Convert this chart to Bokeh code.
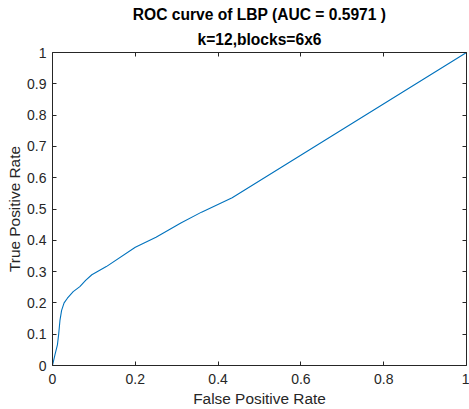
from bokeh.plotting import figure
from bokeh.models import LinearAxis, FixedTicker, Title, Range1d
from bokeh.embed import file_html
from bokeh.resources import INLINE

fpr = [0, 0.006, 0.012, 0.015, 0.018, 0.022, 0.028, 0.036, 0.05, 0.066, 0.08,
       0.095, 0.13, 0.2, 0.25, 0.31, 0.36, 0.434, 1.0]
tpr = [0, 0.035, 0.067, 0.101, 0.144, 0.176, 0.2, 0.215, 0.236, 0.252, 0.272,
       0.29, 0.316, 0.378, 0.41, 0.455, 0.49, 0.536, 1.0]
x_ticks = [0, 0.2, 0.4, 0.6, 0.8, 1.0]
x_labels = ["0", "0.2", "0.4", "0.6", "0.8", "1"]
y_ticks = [0, 0.1, 0.2, 0.3, 0.4, 0.5, 0.6, 0.7, 0.8, 0.9, 1.0]
y_labels = ["0", "0.1", "0.2", "0.3", "0.4", "0.5", "0.6", "0.7", "0.8", "0.9", "1"]
title1 = "ROC curve of LBP (AUC = 0.5971 )"
title2 = "k=12,blocks=6x6"
x_title = "False Positive Rate"
y_title = "True Positive Rate"

FONT = "Liberation Sans"
AX = "#262626"

p = figure(width=469, height=409, output_backend="svg", toolbar_location=None,
           x_range=Range1d(0, 1), y_range=Range1d(0, 1),
           x_axis_label=x_title, y_axis_label=y_title,
           min_border_left=52, min_border_right=3, min_border_bottom=44, min_border_top=52)
p.grid.visible = False
p.outline_line_color = None
p.background_fill_color = "white"
p.border_fill_color = "white"

def style(ax, ticks, labels):
    ax.ticker = FixedTicker(ticks=ticks)
    ax.major_label_overrides = {t: l for t, l in zip(ticks, labels)}
    ax.axis_line_color = AX
    ax.axis_line_width = 1
    ax.major_tick_line_color = AX
    ax.major_tick_in = 4
    ax.major_tick_out = 0
    ax.minor_tick_line_color = None
    ax.major_label_text_font = FONT
    ax.major_label_text_font_size = "14px"
    ax.major_label_text_color = AX
    ax.axis_label_text_font = FONT
    ax.axis_label_text_font_size = "15.4px"
    ax.axis_label_text_font_style = "normal"
    ax.axis_label_text_color = AX

style(p.xaxis[0], x_ticks, x_labels)
style(p.yaxis[0], y_ticks, y_labels)
p.xaxis[0].major_label_standoff = 8
p.xaxis[0].axis_label_standoff = 3
p.yaxis[0].major_label_standoff = 6
p.yaxis[0].axis_label_standoff = 1

def box_axis(ticks):
    ax = LinearAxis(ticker=FixedTicker(ticks=[], minor_ticks=ticks))
    ax.axis_line_color = AX
    ax.axis_line_width = 1
    ax.major_tick_line_color = None
    ax.minor_tick_line_color = AX
    ax.minor_tick_in = 4
    ax.minor_tick_out = 0
    ax.major_label_standoff = 0
    return ax

p.add_layout(box_axis(x_ticks), "above")
p.add_layout(box_axis(y_ticks), "right")

p.title.text = title1
p.title.text_font = FONT
p.title.text_font_size = "15.6px"
p.title.text_font_style = "bold"
p.title.text_color = "black"
p.title.align = "center"
p.title.standoff = 3
p.add_layout(Title(text=title2, text_font=FONT, text_font_size="15.6px",
                   text_font_style="bold", text_color="black", align="center",
                   standoff=9), "above")

p.line(fpr, tpr, line_color="#0072BD", line_width=1.1)

open("out.html", "w").write(file_html(p, INLINE))
